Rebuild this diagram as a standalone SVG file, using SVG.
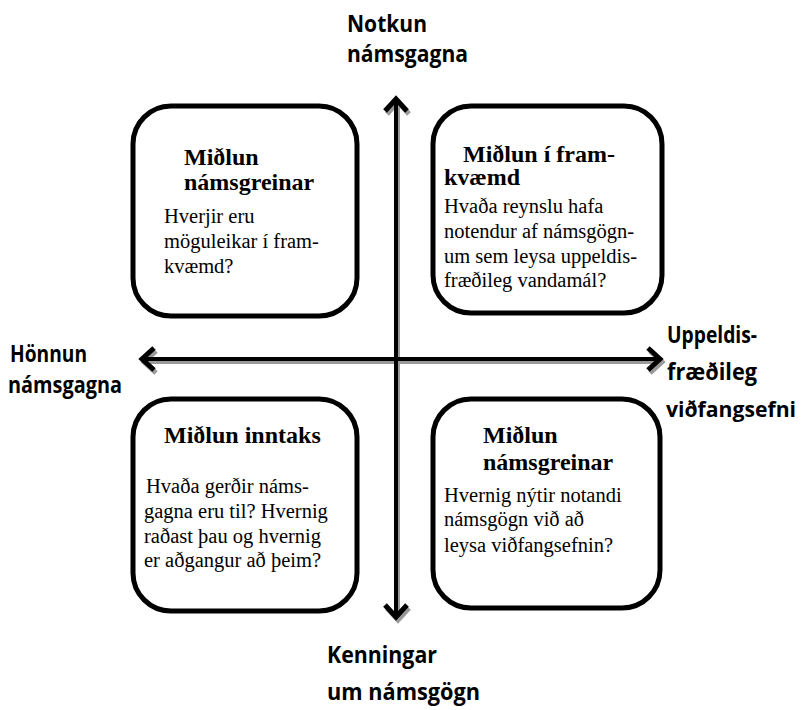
<svg xmlns="http://www.w3.org/2000/svg" width="803" height="710" viewBox="0 0 803 710">
  <defs>
    <style>
      .box { fill: #fff; stroke: #000; stroke-width: 5; }
      .title { font-family: "Liberation Serif", "Times New Roman", serif; font-weight: bold; font-size: 24px; fill: #000; }
      .body { font-family: "Liberation Serif", "Times New Roman", serif; font-size: 20.5px; fill: #000; }
      .axis { font-family: "Open Sans", "Liberation Sans", sans-serif; font-weight: bold; font-size: 23px; fill: #000; }
      .axis.tight { font-size: 20.5px; }
      .shaft { stroke-width: 4; fill: none; }
      .head { stroke-width: 5; fill: none; stroke-linejoin: miter; stroke-linecap: butt; }
      .shadow { stroke: #9a9a9a; }
      .ink { stroke: #000; }
    </style>
  </defs>

  <rect width="803" height="710" fill="#fff"/>

  <!-- axes (gray drop shadow first, then black) -->
  <g id="connectors">
    <g class="shadow" transform="translate(2,3)">
      <line class="shaft" x1="396" y1="100" x2="396" y2="616"/>
      <polyline class="head" points="385,111 396,99 407,111"/>
      <polyline class="head" points="385,605 396,617 407,605"/>
      <line class="shaft" x1="143" y1="359" x2="659" y2="359"/>
      <polyline class="head" points="154,348 142,359 154,370"/>
      <polyline class="head" points="648,348 660,359 648,370"/>
    </g>
    <g class="ink">
      <line class="shaft" x1="396" y1="100" x2="396" y2="616"/>
      <polyline class="head" points="385,111 396,99 407,111"/>
      <polyline class="head" points="385,605 396,617 407,605"/>
      <line class="shaft" x1="143" y1="359" x2="659" y2="359"/>
      <polyline class="head" points="154,348 142,359 154,370"/>
      <polyline class="head" points="648,348 660,359 648,370"/>
    </g>
  </g>

  <!-- axis labels -->
  <g id="label-top">
    <text class="axis" x="347" y="32" textLength="80" lengthAdjust="spacingAndGlyphs">Notkun</text>
    <text class="axis" x="347" y="62" textLength="121" lengthAdjust="spacingAndGlyphs">námsgagna</text>
  </g>
  <g id="label-bottom">
    <text class="axis" x="327" y="663" textLength="110" lengthAdjust="spacingAndGlyphs">Kenningar</text>
    <text class="axis" x="327" y="700" textLength="153" lengthAdjust="spacingAndGlyphs">um námsgögn</text>
  </g>
  <g id="label-left">
    <text class="axis" x="10" y="362" textLength="77" lengthAdjust="spacingAndGlyphs">Hönnun</text>
    <text class="axis" x="8" y="393" textLength="114" lengthAdjust="spacingAndGlyphs">námsgagna</text>
  </g>
  <g id="label-right">
    <text class="axis" x="667" y="343" textLength="90" lengthAdjust="spacingAndGlyphs">Uppeldis-</text>
    <text class="axis" x="667" y="380" textLength="90" lengthAdjust="spacingAndGlyphs">fræðileg</text>
    <text class="axis tight" x="666" y="417" textLength="130" lengthAdjust="spacingAndGlyphs">viðfangsefni</text>
  </g>

  <!-- quadrant boxes -->
  <g id="box-top-left">
    <rect class="box" x="133" y="106" width="224" height="210" rx="38"/>
    <text class="title" x="184" y="165">Miðlun</text>
    <text class="title" x="184" y="190">námsgreinar</text>
    <text class="body" x="164" y="223">Hverjir eru</text>
    <text class="body" x="164" y="248">möguleikar í fram-</text>
    <text class="body" x="164" y="273">kvæmd?</text>
  </g>

  <g id="box-top-right">
    <rect class="box" x="433" y="106" width="229" height="207" rx="38"/>
    <text class="title" x="463" y="162">Miðlun í fram-</text>
    <text class="title" x="444" y="185">kvæmd</text>
    <text class="body" x="444" y="213">Hvaða reynslu hafa</text>
    <text class="body" x="444" y="238">notendur af námsgögn-</text>
    <text class="body" x="444" y="263">um sem leysa uppeldis-</text>
    <text class="body" x="444" y="287">fræðileg vandamál?</text>
  </g>

  <g id="box-bottom-left">
    <rect class="box" x="133" y="399" width="224" height="212" rx="38"/>
    <text class="title" x="164" y="443">Miðlun inntaks</text>
    <text class="body" x="146" y="493">Hvaða gerðir náms-</text>
    <text class="body" x="144" y="518">gagna eru til? Hvernig</text>
    <text class="body" x="144" y="543">raðast þau og hvernig</text>
    <text class="body" x="144" y="567">er aðgangur að þeim?</text>
  </g>

  <g id="box-bottom-right">
    <rect class="box" x="433" y="399" width="227" height="209" rx="38"/>
    <text class="title" x="483" y="443">Miðlun</text>
    <text class="title" x="483" y="470">námsgreinar</text>
    <text class="body" x="444" y="502">Hvernig nýtir notandi</text>
    <text class="body" x="444" y="526">námsgögn við að</text>
    <text class="body" x="444" y="552">leysa viðfangsefnin?</text>
  </g>
</svg>
